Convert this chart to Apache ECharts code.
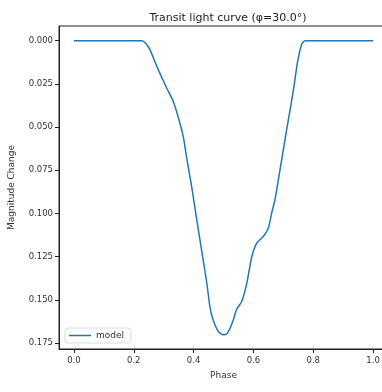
<!DOCTYPE html>
<html>
<head>
<meta charset="utf-8">
<script src="https://cdn.jsdelivr.net/npm/echarts@6/dist/echarts.min.js"></script>
<style>
  html, body { margin: 0; padding: 0; background: #fff; }
  #main { width: 382px; height: 392px; }
</style>
</head>
<body>
<div id="main"></div>
<script>
// values
var phase = [0, 0.226, 0.240, 0.254, 0.268, 0.282, 0.296, 0.310, 0.332, 0.349, 0.366, 0.377, 0.394, 0.410, 0.427, 0.444, 0.455, 0.466, 0.483, 0.499, 0.512, 0.522, 0.533, 0.544, 0.561, 0.578, 0.594, 0.611, 0.633, 0.650, 0.661, 0.672, 0.689, 0.711, 0.734, 0.747, 0.761, 0.773, 1.0];
var magChange = [0, 0, 0.0015, 0.0052, 0.011, 0.0168, 0.0222, 0.0274, 0.0352, 0.0445, 0.0560, 0.0680, 0.0850, 0.1030, 0.1215, 0.1400, 0.1545, 0.1620, 0.1684, 0.1703, 0.1695, 0.1665, 0.1616, 0.1555, 0.151, 0.1404, 0.1255, 0.1172, 0.1134, 0.1085, 0.0998, 0.0921, 0.0747, 0.0516, 0.0284, 0.0129, 0.0023, 0, 0];
var xTicks = [0, 0.2, 0.4, 0.6, 0.8, 1.0];
var yTicks = [0, 0.025, 0.05, 0.075, 0.1, 0.125, 0.15, 0.175];

var seriesData = phase.map(function (p, i) { return [p, magChange[i]]; });

var font = 'DejaVu Sans';
var myChart = echarts.init(document.getElementById('main'));
myChart.setOption({
    animation: false,
    title: {
        text: 'Transit light curve (\u03c6=30.0\u00b0)',
        left: 223,
        textAlign: 'center',
        top: 8,
        textStyle: { fontFamily: font, fontSize: 11, fontWeight: 'normal', color: '#222' }
    },
    legend: {
        left: 65,
        top: 328,
        padding: [3, 7, 3, 4],
        icon: 'rect',
        itemWidth: 22,
        itemHeight: 1.5,
        itemGap: 5,
        borderColor: '#ddd',
        borderWidth: 1,
        borderRadius: 3,
        backgroundColor: '#fff',
        textStyle: { fontFamily: font, fontSize: 9, color: '#333' },
        data: ['model']
    },
    grid: {
        left: 59,
        top: 26,
        width: 329,
        height: 323,
        outerBoundsMode: 'none',
        containLabel: false,
        show: true,
        borderColor: '#222',
        borderWidth: 1
    },
    xAxis: {
        type: 'value',
        min: -0.05,
        max: 1.05,
        name: 'Phase',
        nameLocation: 'middle',
        nameGap: 22,
        nameTextStyle: { fontFamily: font, fontSize: 9, color: '#333' },
        axisLine: { show: true, onZero: false, lineStyle: { color: '#222', width: 1 } },
        axisTick: { show: true, length: 4, customValues: xTicks, lineStyle: { color: '#222' } },
        axisLabel: {
            customValues: xTicks,
            margin: 7,
            fontFamily: font, fontSize: 8.5, color: '#333',
            formatter: function (v) { return v.toFixed(1); }
        },
        splitLine: { show: false }
    },
    yAxis: {
        type: 'value',
        inverse: true,
        min: -0.0085,
        max: 0.1785,
        name: 'Magnitude Change',
        nameLocation: 'middle',
        nameGap: 43,
        nameRotate: 90,
        nameTextStyle: { fontFamily: font, fontSize: 9, color: '#333' },
        axisLine: { show: true, onZero: false, lineStyle: { color: '#222', width: 1 } },
        axisTick: { show: true, length: 4, customValues: yTicks, lineStyle: { color: '#222' } },
        axisLabel: {
            customValues: yTicks,
            margin: 6,
            fontFamily: font, fontSize: 8.5, color: '#333',
            formatter: function (v) { return v.toFixed(3); }
        },
        splitLine: { show: false }
    },
    series: [{
        name: 'model',
        type: 'line',
        data: seriesData,
        symbol: 'none',
        smooth: 0.2,
        lineStyle: { color: '#1f77b4', width: 1.5 },
        itemStyle: { color: '#1f77b4' }
    }]
});
</script>
</body>
</html>
